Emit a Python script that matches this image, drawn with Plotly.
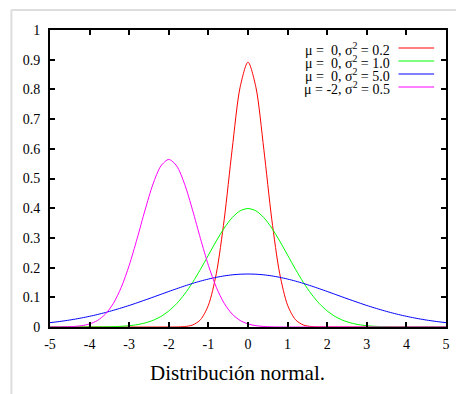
import plotly.graph_objects as go

# x samples (-5 .. 5, step 0.2)
x_vals = [-5.0, -4.8, -4.6, -4.4, -4.2, -4.0, -3.8, -3.6, -3.4, -3.2,
          -3.0, -2.8, -2.6, -2.4, -2.2, -2.0, -1.8, -1.6, -1.4, -1.2,
          -1.0, -0.8, -0.6, -0.4, -0.2, 0.0, 0.2, 0.4, 0.6, 0.8,
          1.0, 1.2, 1.4, 1.6, 1.8, 2.0, 2.2, 2.4, 2.6, 2.8,
          3.0, 3.2, 3.4, 3.6, 3.8, 4.0, 4.2, 4.4, 4.6, 4.8, 5.0]

# mu = 0, sigma^2 = 0.2
y_red = [0, 0, 0, 0, 0, 0, 0, 0, 0, 0,
         0, 0, 0, 0, 0, 0.00004, 0.00027, 0.00148, 0.00664, 0.0244,
         0.0732, 0.180, 0.363, 0.598, 0.807, 0.892, 0.807, 0.598, 0.363, 0.180,
         0.0732, 0.0244, 0.00664, 0.00148, 0.00027, 0.00004, 0, 0, 0, 0,
         0, 0, 0, 0, 0, 0, 0, 0, 0, 0, 0]

# mu = 0, sigma^2 = 1.0
y_green = [0, 0, 0.00001, 0.00002, 0.00006, 0.0001, 0.0003, 0.0006, 0.0012, 0.0024,
           0.0044, 0.0079, 0.0136, 0.0224, 0.0355, 0.0540, 0.0790, 0.1109, 0.1497, 0.1942,
           0.2420, 0.2897, 0.3332, 0.3683, 0.3910, 0.3989, 0.3910, 0.3683, 0.3332, 0.2897,
           0.2420, 0.1942, 0.1497, 0.1109, 0.0790, 0.0540, 0.0355, 0.0224, 0.0136, 0.0079,
           0.0044, 0.0024, 0.0012, 0.0006, 0.0003, 0.0001, 0.00006, 0.00002, 0.00001, 0, 0]

# mu = 0, sigma^2 = 5.0
y_blue = [0.0146, 0.0178, 0.0215, 0.0257, 0.0306, 0.0360, 0.0421, 0.0488, 0.0562, 0.0641,
          0.0725, 0.0815, 0.0908, 0.1003, 0.1100, 0.1196, 0.1290, 0.1381, 0.1467, 0.1545,
          0.1614, 0.1673, 0.1721, 0.1756, 0.1777, 0.1784, 0.1777, 0.1756, 0.1721, 0.1673,
          0.1614, 0.1545, 0.1467, 0.1381, 0.1290, 0.1196, 0.1100, 0.1003, 0.0908, 0.0815,
          0.0725, 0.0641, 0.0562, 0.0488, 0.0421, 0.0360, 0.0306, 0.0257, 0.0215, 0.0178, 0.0146]

# mu = -2, sigma^2 = 0.5
y_magenta = [0.0001, 0.0002, 0.0007, 0.0018, 0.0045, 0.0103, 0.0221, 0.0436, 0.0795, 0.1337,
             0.2076, 0.2975, 0.3936, 0.4808, 0.5421, 0.5642, 0.5421, 0.4808, 0.3936, 0.2975,
             0.2076, 0.1337, 0.0795, 0.0436, 0.0221, 0.0103, 0.0045, 0.0018, 0.0007, 0.0002,
             0.0001, 0, 0, 0, 0, 0, 0, 0, 0, 0,
             0, 0, 0, 0, 0, 0, 0, 0, 0, 0, 0]

series_names = ["μ =  0, σ<sup>2</sup> = 0.2", "μ =  0, σ<sup>2</sup> = 1.0",
                "μ =  0, σ<sup>2</sup> = 5.0", "μ = -2, σ<sup>2</sup> = 0.5"]
series_colors = ["#ff0000", "#00ff00", "#0000ff", "#ff00ff"]
series_values = [y_red, y_green, y_blue, y_magenta]

x_ticks = [-5, -4, -3, -2, -1, 0, 1, 2, 3, 4, 5]
y_ticks = [0, 0.1, 0.2, 0.3, 0.4, 0.5, 0.6, 0.7, 0.8, 0.9, 1]
y_ticktext = ["0", "0.1", "0.2", "0.3", "0.4", "0.5", "0.6", "0.7", "0.8", "0.9", "1"]
title_text = "Distribución normal."

SERIF = "Liberation Serif"

fig = go.Figure()
for name, col, ys in zip(series_names, series_colors, series_values):
    fig.add_trace(go.Scatter(x=x_vals, y=ys, mode="lines", name=name,
                             line=dict(color=col, width=1, shape="spline", smoothing=0.8),
                             showlegend=False, cliponaxis=True))

W, H = 459, 394
L, R, T, B = 50, 450, 30, 327
pw, ph = R - L, B - T

def px_x(v):
    return (v - L) / pw

def px_y(v):
    return (B - v) / ph

# legend (text right aligned, sample line to the right)
row_y = [49, 62, 75, 88]
for name, col, ry in zip(series_names, series_colors, row_y):
    fig.add_annotation(x=px_x(395), y=px_y(ry), xref="paper", yref="paper",
                       text=name, showarrow=False, xanchor="right", yanchor="middle",
                       font=dict(family=SERIF, size=14, color="black"))
    fig.add_shape(type="line", xref="paper", yref="paper",
                  x0=px_x(402), x1=px_x(438), y0=px_y(ry - 1), y1=px_y(ry - 1),
                  line=dict(color=col, width=1.2))

# title below the axis
fig.add_annotation(x=px_x(239), y=px_y(373), xref="paper", yref="paper",
                   text=title_text, showarrow=False, xanchor="center", yanchor="middle",
                   font=dict(family=SERIF, size=21, color="black"))

# light gray frame (top and left)
fig.add_shape(type="line", xref="paper", yref="paper",
              x0=px_x(11), x1=px_x(460), y0=px_y(10), y1=px_y(10),
              line=dict(color="#dddddd", width=2))
fig.add_shape(type="line", xref="paper", yref="paper",
              x0=px_x(11), x1=px_x(11), y0=px_y(10), y1=px_y(400),
              line=dict(color="#dddddd", width=2))

axis_common = dict(showline=True, linecolor="black", linewidth=2, mirror="ticks",
                   ticks="inside", ticklen=5, tickwidth=1.5, tickcolor="black",
                   showgrid=False, zeroline=False,
                   tickfont=dict(family=SERIF, size=14, color="black"))

fig.update_xaxes(range=[-5, 5], tickvals=x_ticks, ticktext=[str(t) for t in x_ticks],
                 ticklabelstandoff=3, **axis_common)
fig.update_yaxes(range=[0, 1], tickvals=y_ticks, ticktext=y_ticktext,
                 ticklabelstandoff=5, **axis_common)

fig.update_layout(width=W, height=H, autosize=False,
                  margin=dict(l=L, r=W - R, t=T, b=H - B, pad=0),
                  plot_bgcolor="white", paper_bgcolor="white", showlegend=False)

fig.write_html("out.html", config={"displayModeBar": False},
               post_script="document.body.style.margin='0';document.body.style.overflow='hidden';")
